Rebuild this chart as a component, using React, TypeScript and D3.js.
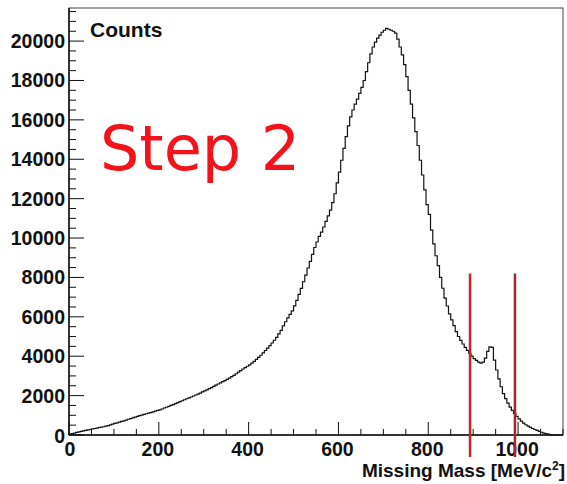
import React, { useEffect, useRef } from "react";
import * as d3 from "d3";

// histogram: 5 MeV bins starting at 0
const binLow = 0;
const binWidth = 5;
const counts = [
  40, 70, 100, 130, 160, 180, 210, 230, 260, 280,
  310, 330, 350, 380, 400, 420, 450, 480, 510, 550,
  590, 620, 650, 690, 720, 760, 800, 830, 870, 910,
  950, 980, 1010, 1050, 1080, 1110, 1140, 1170, 1210, 1250,
  1280, 1320, 1370, 1410, 1450, 1500, 1540, 1590, 1640, 1690,
  1740, 1790, 1840, 1880, 1930, 1980, 2030, 2080, 2130, 2190,
  2240, 2290, 2350, 2410, 2470, 2530, 2590, 2650, 2710, 2760,
  2820, 2890, 2960, 3030, 3110, 3190, 3270, 3350, 3420, 3490,
  3560, 3650, 3740, 3840, 3940, 4050, 4170, 4290, 4410, 4540,
  4670, 4810, 4960, 5130, 5310, 5540, 5750, 5950, 6120, 6300,
  6560, 6840, 7140, 7440, 7780, 8120, 8480, 8820, 9170, 9520,
  9800, 10080, 10300, 10560, 10850, 11130, 11420, 11800, 12250, 12800,
  13350, 13950, 14550, 15150, 15700, 16150, 16500, 16800, 17050, 17350,
  17650, 18000, 18450, 18900, 19350, 19700, 19950, 20150, 20300, 20450,
  20550, 20650, 20600, 20550, 20500, 20400, 20100, 19700, 19300, 18800,
  18200, 17500, 16800, 16100, 15400, 14700, 13950, 13200, 12450, 11700,
  11200, 10400, 9700, 9100, 8600, 8000, 7450, 6950, 6550, 6150,
  5850, 5550, 5250, 5000, 4800, 4620, 4450, 4300, 4150, 4000,
  3880, 3790, 3700, 3650, 3700, 3900, 4250, 4470, 4450, 3800,
  3300, 2850, 2450, 2100, 1850, 1620, 1420, 1250, 1100, 950,
  820, 700, 600, 520, 450, 390, 330, 280, 230, 180,
  140, 100, 70, 40, 20, 10, 0, 0, 0, 0,
];

const xMax = 1100;
const yMax = 21680;
const xMajorTicks = [0, 200, 400, 600, 800, 1000];
const yMajorTicks = [0, 2000, 4000, 6000, 8000, 10000, 12000, 14000, 16000, 18000, 20000];

// cut lines (MeV) and their vertical extent (counts)
const cutLines = [893, 993];
const cutColors = ["#c4262b", "#a8282c"];
const cutTop = 8200;
const cutBottom = -1120;

function Chart() {
  const ref = useRef<SVGSVGElement>(null);

  useEffect(() => {
    const svg = d3.select(ref.current);
    svg.selectAll("*").remove();

    const x = d3.scaleLinear().domain([0, xMax]).range([69, 563]);
    const y = d3.scaleLinear().domain([0, yMax]).range([435, 8]);

    const font = "'Liberation Sans', Arial, sans-serif";

    svg.append("rect").attr("width", 567).attr("height", 484).attr("fill", "white");

    // frame
    svg.append("rect")
      .attr("x", x(0)).attr("y", y(yMax))
      .attr("width", x(xMax) - x(0)).attr("height", y(0) - y(yMax))
      .attr("fill", "none").attr("stroke", "#444").attr("stroke-width", 1);

    // histogram
    const pts: [number, number][] = [[binLow, 0]];
    counts.forEach((c, i) => pts.push([binLow + i * binWidth, c]));
    pts.push([binLow + counts.length * binWidth, counts[counts.length - 1]]);
    const line = d3.line<[number, number]>()
      .x(d => x(d[0]))
      .y(d => y(d[1]))
      .curve(d3.curveStepAfter);
    svg.append("path")
      .attr("d", line(pts))
      .attr("fill", "none")
      .attr("stroke", "#111")
      .attr("stroke-width", 1.2);

    // axes lines
    svg.append("line").attr("x1", x(0)).attr("x2", x(xMax)).attr("y1", y(0)).attr("y2", y(0))
      .attr("stroke", "#111").attr("stroke-width", 1.5);
    svg.append("line").attr("x1", x(0)).attr("x2", x(0)).attr("y1", y(0)).attr("y2", y(yMax))
      .attr("stroke", "#111").attr("stroke-width", 1.5);

    // x ticks
    d3.range(0, xMax + 1, 50).forEach(v => {
      const major = v % 200 === 0;
      svg.append("line")
        .attr("x1", x(v)).attr("x2", x(v))
        .attr("y1", y(0)).attr("y2", y(0) - (major ? 13 : 6))
        .attr("stroke", "#111").attr("stroke-width", 1);
    });
    // y ticks
    d3.range(0, yMax, 500).forEach(v => {
      const major = v % 2000 === 0;
      svg.append("line")
        .attr("x1", x(0)).attr("x2", x(0) + (major ? 15 : 7))
        .attr("y1", y(v)).attr("y2", y(v))
        .attr("stroke", "#111").attr("stroke-width", 1);
    });

    svg.selectAll(".xl").data(xMajorTicks).enter().append("text")
      .attr("x", d => x(d) + (d === 0 ? 1 : -1))
      .attr("y", 456)
      .attr("text-anchor", "middle")
      .attr("font-family", font).attr("font-weight", "bold").attr("font-size", 19.5)
      .attr("fill", "#111")
      .text(d => d);

    svg.selectAll(".yl").data(yMajorTicks).enter().append("text")
      .attr("x", 65)
      .attr("y", d => y(d) + 7 + (d === 0 ? 1 : 0))
      .attr("text-anchor", "end")
      .attr("font-family", font).attr("font-weight", "bold").attr("font-size", 19.5)
      .attr("fill", "#111")
      .text(d => d);

    svg.append("text")
      .attr("x", 90).attr("y", 37)
      .attr("font-family", font).attr("font-weight", "bold").attr("font-size", 21)
      .attr("fill", "#111")
      .text("Counts");

    const xt = svg.append("text")
      .attr("x", 565).attr("y", 477)
      .attr("text-anchor", "end")
      .attr("font-family", font).attr("font-weight", "bold").attr("font-size", 19)
      .attr("fill", "#111");
    xt.append("tspan").text("Missing Mass [MeV/c");
    xt.append("tspan").attr("dy", -7).attr("font-size", 12).text("2");
    xt.append("tspan").attr("dy", 7).text("]");

    // cut lines
    cutLines.forEach((c, i) => {
      svg.append("line")
        .attr("x1", x(c)).attr("x2", x(c))
        .attr("y1", y(cutTop)).attr("y2", y(cutBottom))
        .attr("stroke", cutColors[i]).attr("stroke-width", 2.5);
    });

    svg.append("text")
      .attr("x", 100).attr("y", 170)
      .attr("font-family", "'Comic Sans MS', 'DejaVu Sans', sans-serif")
      .attr("font-size", 62)
      .attr("fill", "#f4131a")
      .text("Step 2");
  }, []);

  return <svg ref={ref} width={567} height={484} style={{ position: "absolute", left: 0, top: 0 }} />;
}

export default function App() {
  return <Chart />;
}
